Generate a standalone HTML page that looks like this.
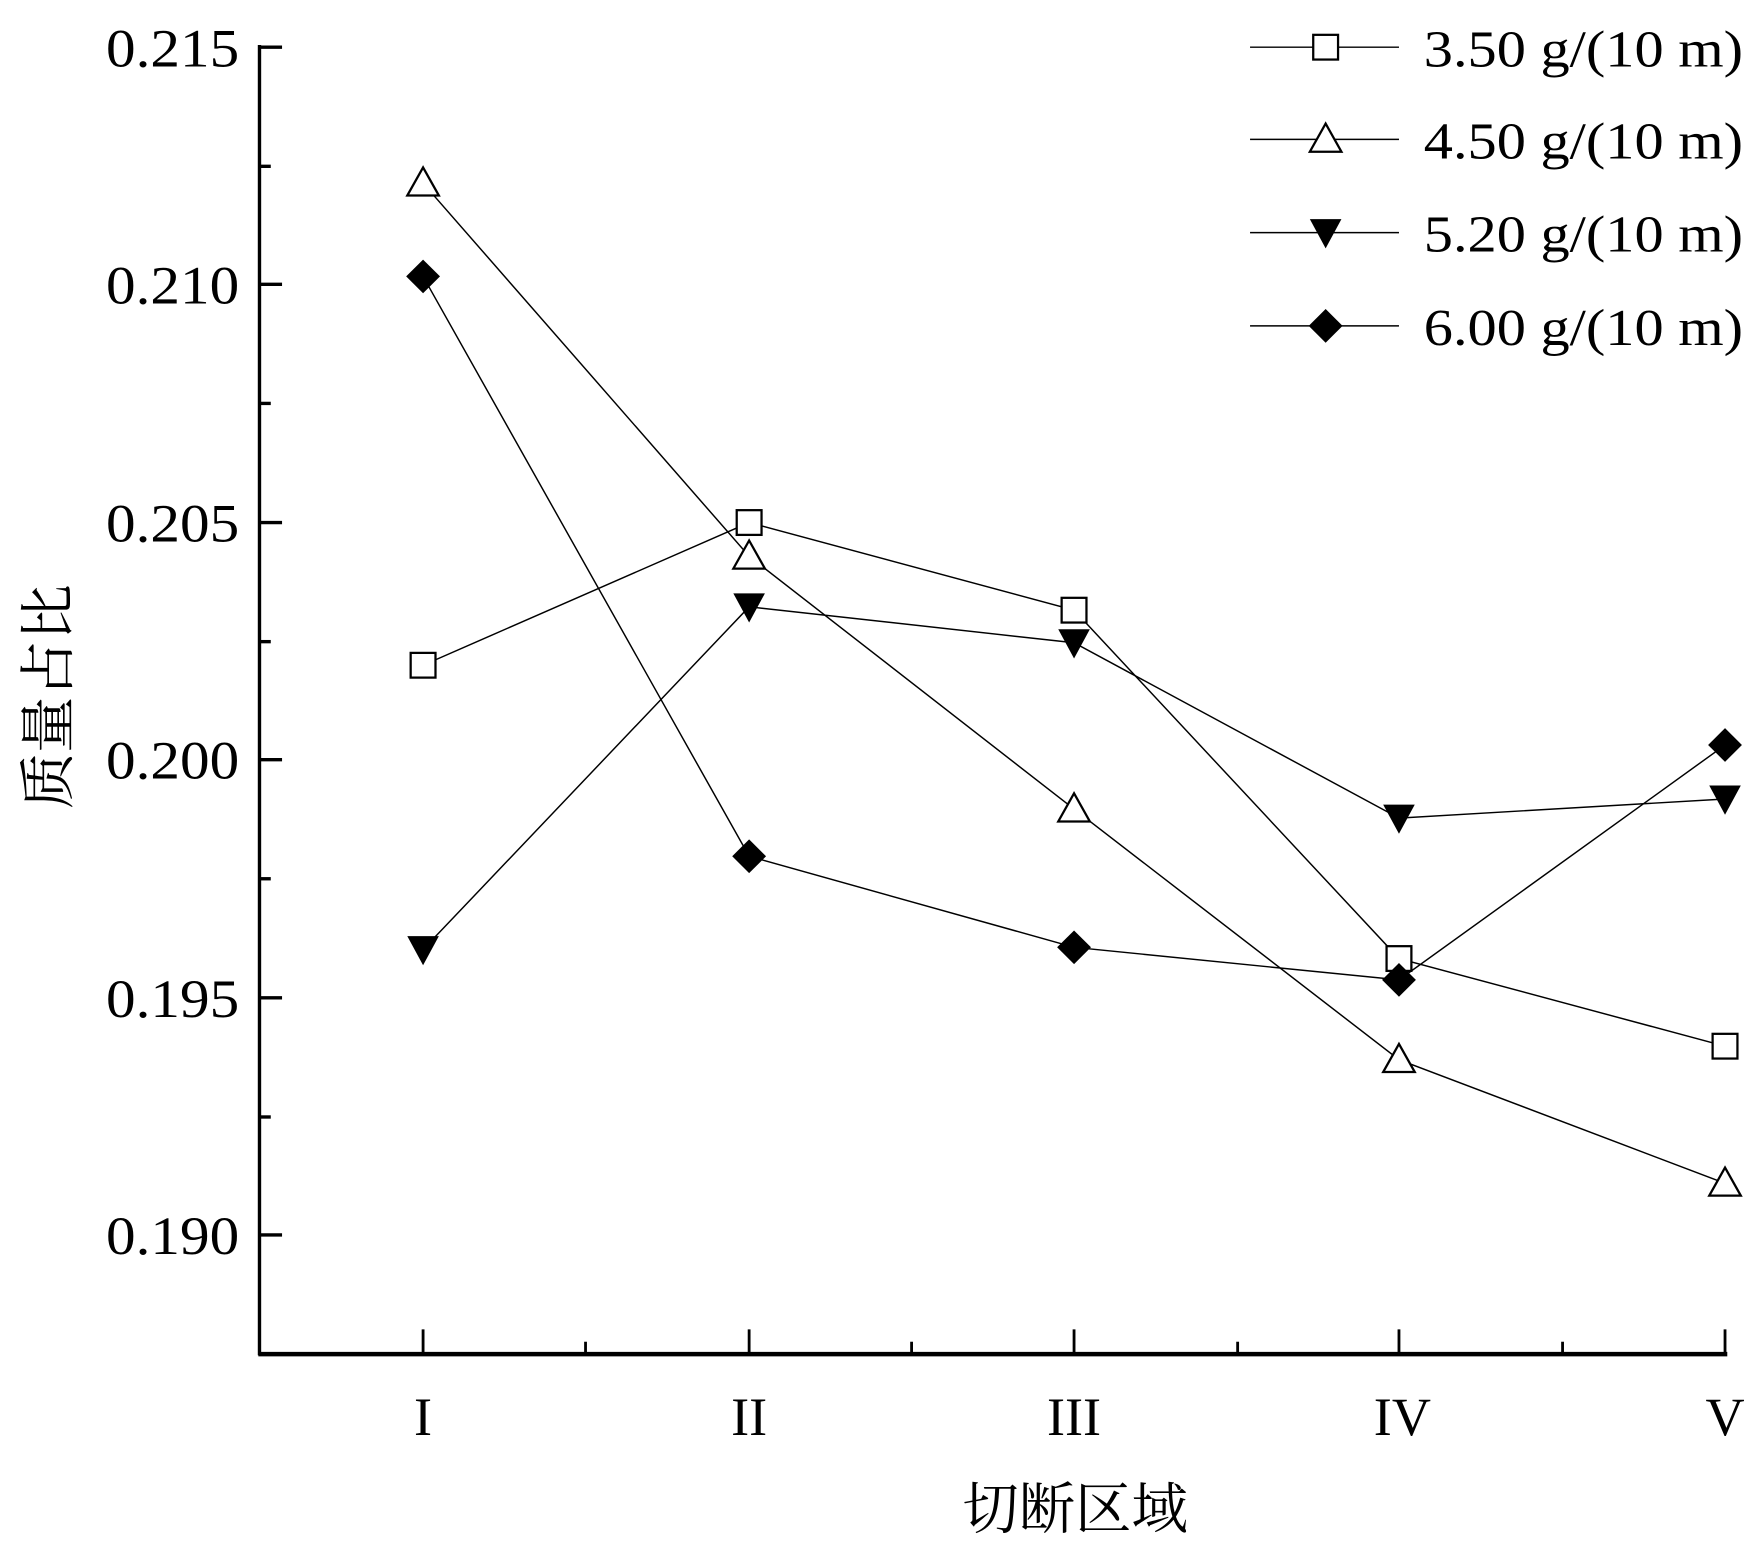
<!DOCTYPE html>
<html><head><meta charset="utf-8"><style>html,body{margin:0;padding:0;background:#fff}svg{display:block}</style></head><body>
<svg width="1760" height="1544" viewBox="0 0 1560 1374" preserveAspectRatio="none" xmlns="http://www.w3.org/2000/svg">
<g stroke="#000" fill="none">
<line x1="230" y1="40" x2="230" y2="1206" stroke-width="3"/>
<line x1="229" y1="1205" x2="1531" y2="1205" stroke-width="4"/>
<g stroke-width="3">
<line x1="230" y1="42" x2="250" y2="42"/><line x1="230" y1="253" x2="250" y2="253"/><line x1="230" y1="465" x2="250" y2="465"/><line x1="230" y1="676" x2="250" y2="676"/><line x1="230" y1="888" x2="250" y2="888"/><line x1="230" y1="1099" x2="250" y2="1099"/>
<line x1="230" y1="148" x2="240" y2="148"/><line x1="230" y1="359" x2="240" y2="359"/><line x1="230" y1="571" x2="240" y2="571"/><line x1="230" y1="782" x2="240" y2="782"/><line x1="230" y1="994" x2="240" y2="994"/>
</g>
<g stroke-width="2.5">
<line x1="375" y1="1205" x2="375" y2="1183"/><line x1="664" y1="1205" x2="664" y2="1183"/><line x1="952" y1="1205" x2="952" y2="1183"/><line x1="1240" y1="1205" x2="1240" y2="1183"/><line x1="1529" y1="1205" x2="1529" y2="1183"/>
<line x1="519" y1="1205" x2="519" y2="1194"/><line x1="808" y1="1205" x2="808" y2="1194"/><line x1="1097" y1="1205" x2="1097" y2="1194"/><line x1="1385" y1="1205" x2="1385" y2="1194"/>
</g>
<g stroke-width="1.3">
<polyline points="375,592 664,465 952,543 1240,853 1529,931"/>
<polyline points="375,163 664,495 952,720 1240,943 1529,1053"/>
<polyline points="375,845 664,540 952,572 1240,728 1529,711"/>
<polyline points="375,246 664,762 952,843 1240,872 1529,663"/>
<line x1="1108" y1="42" x2="1240" y2="42"/><line x1="1108" y1="124" x2="1240" y2="124"/><line x1="1108" y1="207" x2="1240" y2="207"/><line x1="1108" y1="290" x2="1240" y2="290"/>
</g>
</g>
<defs>
<rect id="sq" x="-11" y="-11" width="22" height="22" fill="#fff" stroke="#000" stroke-width="2"/>
<polygon id="tu" points="0,-14 14,11 -14,11" fill="#fff" stroke="#000" stroke-width="2"/>
<polygon id="td" points="-14,-12 14,-12 0,14" fill="#000"/>
<polygon id="dm" points="0,-15 15,0 0,15 -15,0" fill="#000"/>
</defs>
<use href="#sq" x="375" y="592"/><use href="#sq" x="664" y="465"/><use href="#sq" x="952" y="543"/><use href="#sq" x="1240" y="853"/><use href="#sq" x="1529" y="931"/>
<use href="#tu" x="375" y="163"/><use href="#tu" x="664" y="495"/><use href="#tu" x="952" y="720"/><use href="#tu" x="1240" y="943"/><use href="#tu" x="1529" y="1053"/>
<use href="#td" x="375" y="845"/><use href="#td" x="664" y="540"/><use href="#td" x="952" y="572"/><use href="#td" x="1240" y="728"/><use href="#td" x="1529" y="711"/>
<use href="#dm" x="375" y="246"/><use href="#dm" x="664" y="762"/><use href="#dm" x="952" y="843"/><use href="#dm" x="1240" y="872"/><use href="#dm" x="1529" y="663"/>
<use href="#sq" x="1175" y="42"/><use href="#tu" x="1175" y="124"/><use href="#td" x="1175" y="207"/><use href="#dm" x="1175" y="290"/>
<g font-family="Liberation Serif, serif" font-size="48" fill="#000">
<g lengthAdjust="spacingAndGlyphs"><text x="94" y="59" textLength="118" lengthAdjust="spacingAndGlyphs">0.215</text><text x="94" y="270" textLength="118" lengthAdjust="spacingAndGlyphs">0.210</text><text x="94" y="482" textLength="118" lengthAdjust="spacingAndGlyphs">0.205</text><text x="94" y="693" textLength="118" lengthAdjust="spacingAndGlyphs">0.200</text><text x="94" y="905" textLength="118" lengthAdjust="spacingAndGlyphs">0.195</text><text x="94" y="1116" textLength="118" lengthAdjust="spacingAndGlyphs">0.190</text></g>
<g text-anchor="middle" font-size="48"><text x="375" y="1277">I</text><text x="664" y="1277">II</text><text x="952" y="1277">III</text><text x="1243" y="1277">IV</text><text x="1529" y="1277">V</text></g>
<g font-size="46"><text x="1262" y="59" textLength="283" lengthAdjust="spacingAndGlyphs">3.50 g/(10 m)</text><text x="1262" y="141" textLength="283" lengthAdjust="spacingAndGlyphs">4.50 g/(10 m)</text><text x="1262" y="224" textLength="283" lengthAdjust="spacingAndGlyphs">5.20 g/(10 m)</text><text x="1262" y="307" textLength="283" lengthAdjust="spacingAndGlyphs">6.00 g/(10 m)</text></g>
</g>
<text x="953" y="1360" text-anchor="middle" font-family="Noto Serif CJK SC, Noto Sans CJK SC, serif" font-size="50">切断区域</text>
<text transform="translate(60,620) rotate(-90)" text-anchor="middle" font-family="Noto Serif CJK SC, Noto Sans CJK SC, serif" font-size="50">质量占比</text>
</svg>
</body></html>
